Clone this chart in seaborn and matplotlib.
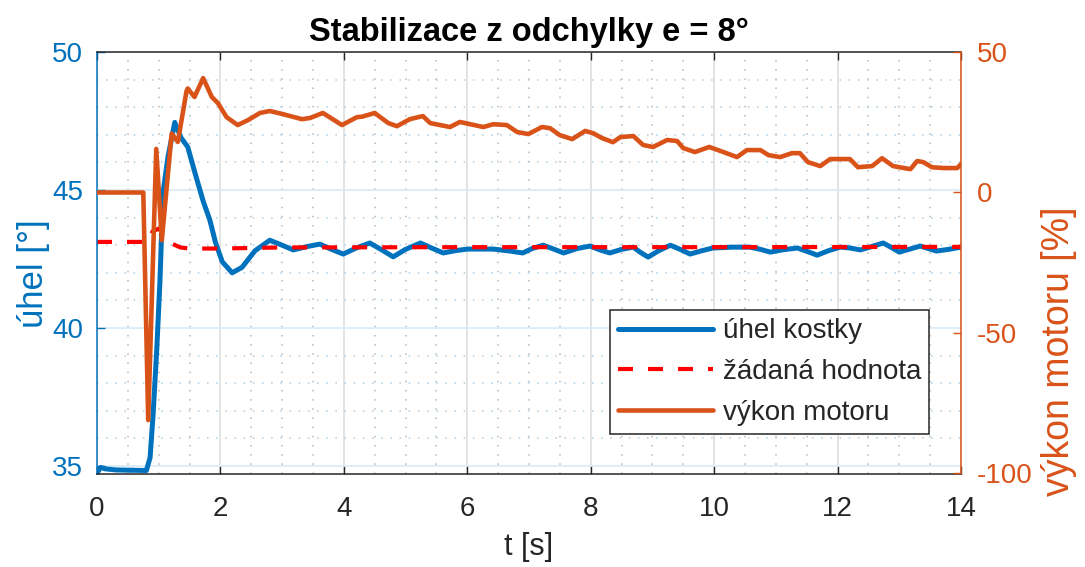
import matplotlib
matplotlib.use("Agg")
import matplotlib.pyplot as plt
import pandas as pd
import seaborn as sns
from matplotlib.ticker import MultipleLocator

# --- measured signals -------------------------------------------------------
# cube angle [deg]
t_angle = [0.0, 0.06, 0.13, 0.3, 0.5, 0.8, 0.86, 0.91, 0.97, 1.02, 1.07, 1.15,
           1.26, 1.36, 1.47, 1.59, 1.72, 1.83, 1.92, 2.03, 2.19, 2.35, 2.56,
           2.8, 3.0, 3.18, 3.4, 3.61, 3.8, 3.99, 4.2, 4.42, 4.6, 4.8, 5.0,
           5.24, 5.42, 5.61, 5.8, 6.0, 6.2, 6.42, 6.65, 6.9, 7.05, 7.23, 7.4,
           7.56, 7.78, 7.99, 8.15, 8.31, 8.5, 8.69, 8.8, 8.93, 9.1, 9.29, 9.45,
           9.61, 9.8, 9.98, 10.3, 10.58, 10.75, 10.91, 11.1, 11.35, 11.5,
           11.67, 11.85, 12.04, 12.2, 12.37, 12.55, 12.74, 12.87, 13.0, 13.17,
           13.34, 13.47, 13.6, 13.8, 14.0]
angle = [34.75, 34.95, 34.9, 34.86, 34.85, 34.84, 35.3, 36.9, 39.3, 41.7, 44.9,
         46.2, 47.45, 46.9, 46.56, 45.6, 44.6, 43.9, 43.1, 42.4, 42.0, 42.2,
         42.8, 43.18, 43.0, 42.83, 42.95, 43.04, 42.85, 42.68, 42.9, 43.08,
         42.85, 42.58, 42.85, 43.08, 42.9, 42.72, 42.8, 42.86, 42.86, 42.86,
         42.8, 42.72, 42.88, 43.0, 42.86, 42.72, 42.88, 42.97, 42.83, 42.72,
         42.85, 42.93, 42.75, 42.57, 42.8, 43.0, 42.85, 42.68, 42.8, 42.9,
         42.93, 42.93, 42.85, 42.75, 42.83, 42.9, 42.78, 42.64, 42.8, 42.93,
         42.9, 42.83, 42.95, 43.08, 42.92, 42.75, 42.86, 42.97, 42.88, 42.79,
         42.85, 42.93]

# reference angle [deg]
t_setpoint = [0.0, 0.82, 0.9, 1.0, 1.13, 1.23, 1.35, 1.5, 2.0, 3.0, 6.0, 10.0, 14.0]
setpoint = [43.12, 43.12, 43.5, 43.6, 43.28, 43.04, 42.92, 42.88, 42.88, 42.92,
            42.93, 42.93, 42.94]

# motor power [%]
t_power = [0.0, 0.75, 0.83, 0.96, 1.05, 1.21, 1.31, 1.45, 1.47, 1.58, 1.72,
           1.86, 1.96, 2.1, 2.28, 2.45, 2.64, 2.8, 3.01, 3.32, 3.45, 3.66,
           3.97, 4.21, 4.3, 4.5, 4.72, 4.86, 5.07, 5.28, 5.4, 5.72, 5.88, 6.26,
           6.42, 6.64, 6.81, 6.99, 7.21, 7.34, 7.5, 7.7, 7.91, 8.04, 8.18, 8.36,
           8.48, 8.69, 8.85, 9.01, 9.24, 9.4, 9.5, 9.69, 9.92, 10.15, 10.37,
           10.53, 10.75, 10.88, 11.07, 11.26, 11.39, 11.52, 11.72, 11.88, 12.2,
           12.33, 12.56, 12.72, 12.9, 13.18, 13.29, 13.39, 13.53, 13.71, 13.94,
           14.0]
power = [0.0, 0.0, -81.0, 15.5, -17.0, 21.0, 18.0, 36.0, 37.0, 34.0, 40.7, 34.0,
         31.8, 26.8, 24.0, 25.8, 28.3, 29.0, 27.9, 26.1, 26.5, 28.3, 24.0, 26.8,
         27.0, 28.3, 24.7, 23.6, 26.1, 27.2, 24.7, 23.3, 25.1, 23.3, 24.3, 24.0,
         21.5, 20.8, 23.3, 22.9, 20.4, 19.0, 21.9, 21.1, 19.4, 17.9, 19.7, 20.1,
         16.9, 16.2, 18.7, 18.3, 15.8, 14.4, 16.2, 14.4, 12.6, 15.1, 15.1, 13.3,
         12.6, 14.0, 14.0, 10.8, 9.4, 11.9, 11.9, 9.0, 9.4, 12.2, 9.4, 8.3, 11.2,
         10.8, 9.0, 8.7, 8.7, 10.1]

x_ticks = [0, 2, 4, 6, 8, 10, 12, 14]
left_ticks = [35, 40, 45, 50]
right_ticks = [-100, -50, 0, 50]

BLUE = "#0072BD"
ORANGE = "#D95319"
RED = "#FF0000"
DARK = "#262626"

sns.set_theme(style="white")
plt.rcParams["font.family"] = ["Liberation Sans", "DejaVu Sans"]
plt.rcParams["axes.unicode_minus"] = False

df_angle = pd.DataFrame({"t": t_angle, "v": angle})
df_set = pd.DataFrame({"t": t_setpoint, "v": setpoint})
df_power = pd.DataFrame({"t": t_power, "v": power})

W, H = 1085, 567
fig = plt.figure(figsize=(W / 100, H / 100), dpi=100)
ax = fig.add_axes([97 / W, 1 - 473.5 / H, 864 / W, 421.5 / H])
ax2 = ax.twinx()

sns.lineplot(data=df_angle, x="t", y="v", ax=ax, color=BLUE, lw=3.6,
             estimator=None, label="úhel kostky", legend=False)
sns.lineplot(data=df_set, x="t", y="v", ax=ax, color=RED, lw=3.0,
             estimator=None, label="žádaná hodnota", legend=False,
             linestyle=(0, (3.6, 3.6)))
sns.lineplot(data=df_power, x="t", y="v", ax=ax2, color=ORANGE, lw=3.3,
             estimator=None, label="výkon motoru", legend=False)

# limits and ticks
ax.set_xlim(0, 14)
ax.set_ylim(34.73, 50)
ax2.set_ylim(-100, 50)
ax.set_xticks(x_ticks)
ax.set_yticks(left_ticks)
ax2.set_yticks(right_ticks)
ax.xaxis.set_minor_locator(MultipleLocator(0.5))
ax.yaxis.set_minor_locator(MultipleLocator(1))

fs = 20
ax.tick_params(axis="x", which="major", direction="in", length=6, width=1,
               colors=DARK, labelsize=fs, pad=16, top=True, bottom=True)
ax.tick_params(axis="y", which="major", direction="in", length=6, width=1,
               colors=BLUE, labelsize=fs, pad=10)
ax.tick_params(which="minor", length=0)
ax2.tick_params(axis="y", which="major", direction="in", length=6, width=1,
                colors=ORANGE, labelsize=fs, pad=11.5)

# grid
ax.set_axisbelow(True)
ax.grid(which="major", axis="x", color="#dedede", lw=1.2)
ax.grid(which="major", axis="y", color="#d9eaf5", lw=1.2)
ax.grid(which="minor", axis="x", color="#b8b8b8", lw=1.1, linestyle=(0, (1, 5)))
ax.grid(which="minor", axis="y", color="#a9d0ea", lw=1.1, linestyle=(0, (1, 5)))

# spines
for s in ["top", "bottom"]:
    ax.spines[s].set_color(DARK)
    ax.spines[s].set_linewidth(1.1)
    ax2.spines[s].set_visible(False)
ax.spines["left"].set_color(BLUE)
ax.spines["left"].set_linewidth(1.1)
ax.spines["right"].set_visible(False)
ax2.spines["left"].set_visible(False)
ax2.spines["right"].set_color(ORANGE)
ax2.spines["right"].set_linewidth(1.1)

# labels and title
ax.set_xlabel("t [s]", fontsize=22, color=DARK)
ax.xaxis.set_label_coords(0.5, -0.138)
ax.set_ylabel("úhel [°]", fontsize=25, color=BLUE, va="center")
ax.yaxis.set_label_coords(-0.074, 0.475)
ax2.set_ylabel("výkon motoru [%]", fontsize=27, color=ORANGE, va="center",
               rotation=90)
ax2.yaxis.set_label_coords(1.114, 0.29)
ax.set_title("Stabilizace z odchylky e = 8°", fontsize=23.5, fontweight="bold",
             color="black", pad=8)

# legend with handles from both axes
h1, l1 = ax.get_legend_handles_labels()
h2, l2 = ax2.get_legend_handles_labels()
leg = ax2.legend(h1 + h2, l1 + l2, loc="upper left",
                 bbox_to_anchor=(0.5938, 0.3879), fontsize=fs,
                 frameon=True, fancybox=False, framealpha=1,
                 edgecolor=DARK, handlelength=3.4, handletextpad=0.35,
                 labelspacing=0.53, borderpad=0.3, borderaxespad=0)
leg.get_frame().set_linewidth(1.1)

fig.savefig("out.png", dpi=100)
